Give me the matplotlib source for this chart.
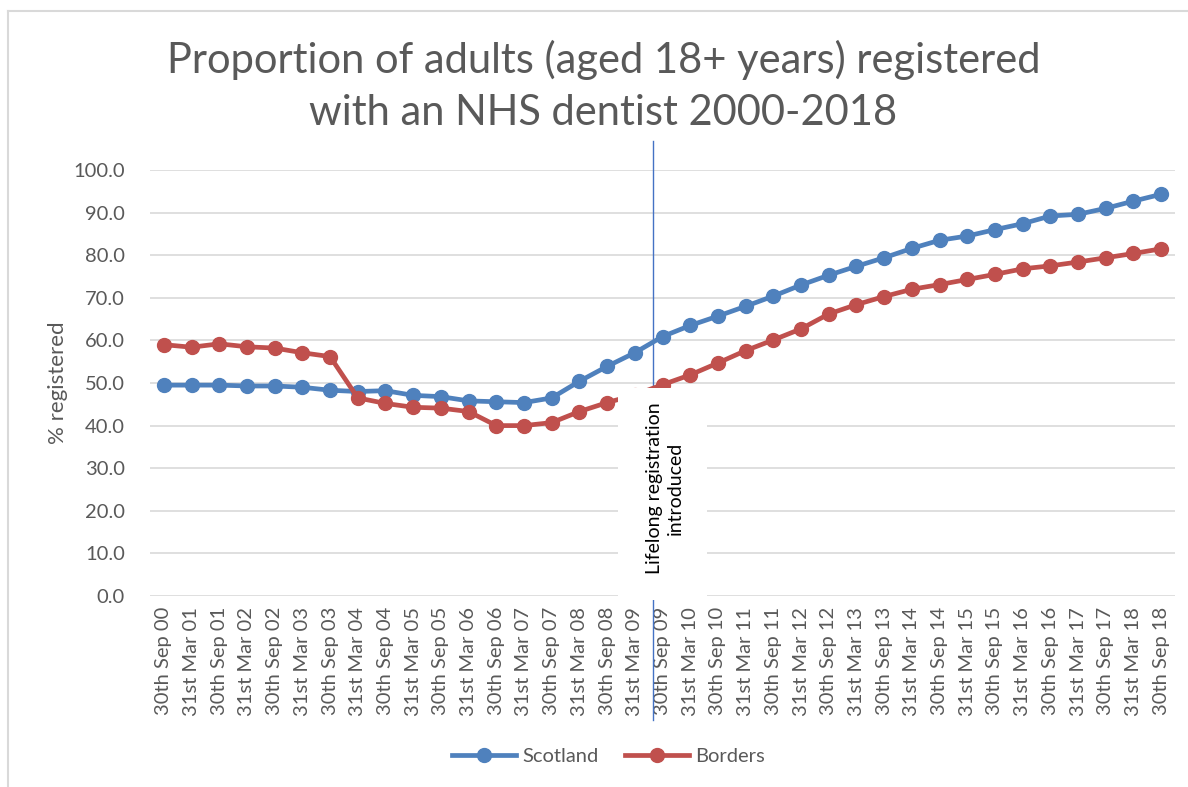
import numpy as np
import matplotlib.pyplot as plt
from matplotlib.patches import Rectangle
from matplotlib.lines import Line2D

plt.rcParams['font.family'] = ['Lato', 'DejaVu Sans']

# 30th Sep 00 ... 30th Sep 18, half-yearly
labels = []
for yr in range(0, 19):
    if yr > 0:
        labels.append('31st Mar %02d' % yr)
    labels.append('30th Sep %02d' % yr)

scotland = [49.5, 49.5, 49.5, 49.3, 49.3, 49.0, 48.3, 48.0, 48.2, 47.1,
            46.8, 45.8, 45.6, 45.4, 46.5, 50.4, 53.9, 57.1, 60.9, 63.5,
            65.7, 68.0, 70.4, 73.0, 75.3, 77.4, 79.4, 81.6, 83.5, 84.5,
            86.0, 87.4, 89.2, 89.6, 91.0, 92.7, 94.3]
borders = [59.0, 58.4, 59.2, 58.5, 58.2, 57.1, 56.2, 46.5, 45.2, 44.3,
           44.1, 43.3, 40.0, 40.0, 40.7, 43.3, 45.4, 47.2, 49.6, 51.9,
           54.7, 57.6, 60.1, 62.7, 66.2, 68.4, 70.3, 72.0, 73.1, 74.3,
           75.5, 76.8, 77.5, 78.4, 79.4, 80.4, 81.5]

grey = '#595959'
x = np.arange(len(labels))

fig = plt.figure(figsize=(11.88, 7.87), dpi=100)
ax = fig.add_axes([150/1188, 1-596/787, 1025/1188, 426/787])

ax.plot(x, scotland, color='#4F81BD', lw=3.4, marker='o', ms=10, label='Scotland', zorder=3)
ax.plot(x, borders, color='#C0504D', lw=3.4, marker='o', ms=10, label='Borders', zorder=3)

ax.set_xlim(-0.5, len(labels) - 0.5)
ax.set_ylim(0, 100)
ax.set_yticks(np.arange(0, 101, 10))
ax.set_yticklabels(['%.1f' % v for v in np.arange(0, 101, 10)])
ax.set_xticks(x)
ax.set_xticklabels(labels, rotation=90)
ax.tick_params(axis='both', length=0, colors=grey, labelsize=14.5)
ax.tick_params(axis='y', pad=18)
ax.tick_params(axis='x', pad=8)
ax.grid(axis='y', color='#d9d9d9', lw=1.2)
ax.set_axisbelow(True)
for s in ax.spines.values():
    s.set_visible(False)
ax.set_ylabel('% registered', color=grey, fontsize=16, labelpad=4)

# lifelong registration marker
ax.plot([17.65, 17.65], [-29, 106.7], color='#4472C4', lw=1, clip_on=False, zorder=2)
ax.add_patch(Rectangle((16.4, -1), 3.2, 49.9, facecolor='white', edgecolor='none',
                       clip_on=False, zorder=4))
ax.text(18.1, 25.2, 'Lifelong registration\nintroduced', rotation=90, ha='center',
        va='center', multialignment='center', fontsize=14, color='black',
        linespacing=1.3, zorder=5)

fig.text(0.508, 0.891, 'Proportion of adults (aged 18+ years) registered\nwith an NHS dentist 2000-2018',
         ha='center', va='center', fontsize=30, color=grey, linespacing=1.45)

ax.legend(loc='upper center', bbox_to_anchor=(0.447, -0.315), ncol=2, frameon=False,
          fontsize=14.5, labelcolor=grey, handlelength=3.2, handletextpad=0.3,
          columnspacing=1.3)

# chart area border (cropped screenshot)
fig.add_artist(Line2D([8/1188, 8/1188], [0, 1-11/787], color='#d9d9d9', lw=1.5))
fig.add_artist(Line2D([8/1188, 1], [1-11/787, 1-11/787], color='#d9d9d9', lw=1.5))

plt.savefig('out.png', dpi=100)
